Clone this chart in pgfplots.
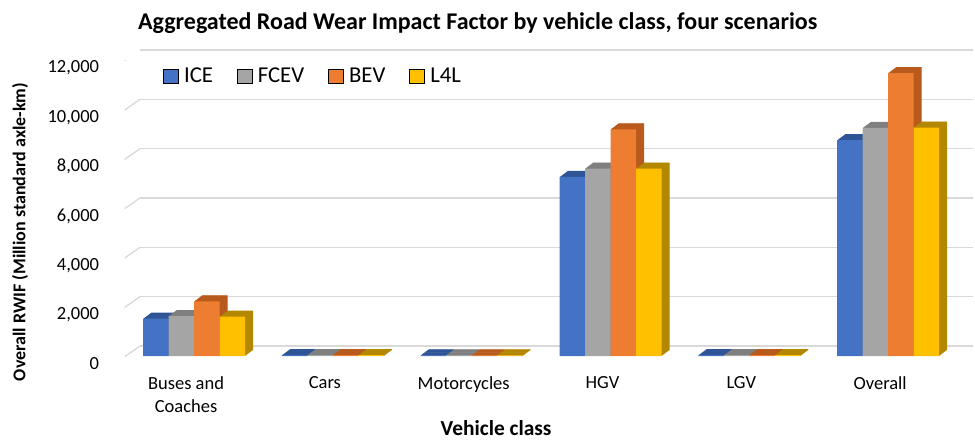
\documentclass[border=0pt]{standalone}
\usepackage{pgfplots}
\pgfplotsset{compat=1.18}
\usepackage{pgfplotstable}
\usepackage{fontspec}
\setmainfont{Carlito}
\definecolor{cICE}{HTML}{4472C4}
\definecolor{cFCEV}{HTML}{A5A5A5}
\definecolor{cBEV}{HTML}{ED7D31}
\definecolor{cL4L}{HTML}{FFC000}
\definecolor{dICE}{HTML}{2F5597}
\definecolor{dFCEV}{HTML}{7F7F7F}
\definecolor{dBEV}{HTML}{B85A1C}
\definecolor{dL4L}{HTML}{B38700}
\definecolor{gridc}{HTML}{D9D9D9}
\pgfplotstableread{
x ICE FCEV BEV L4L
0 1515 1620 2215 1595
1 35 35 40 35
2 30 30 30 30
3 7260 7600 9190 7600
4 35 35 40 35
5 8750 9245 11470 9260
}\data
\begin{document}
\begin{tikzpicture}[x=1pt,y=1pt]
\useasboundingbox (0,0) rectangle (975,440);
\begin{axis}[
  at={(124.6pt,84pt)}, anchor=south west,
  scale only axis, width=833pt, height=296pt,
  xmin=-0.5, xmax=5.5, ymin=0, ymax=12000,
  axis lines=left, axis line style={draw=none}, major tick length=0pt,
  ymajorgrids,
  major grid style={draw=gridc, line width=1.3pt, xshift=15.4pt, yshift=10pt},
  xtick={0,...,5},
  xticklabels={{Buses and\\Coaches},Cars,Motorcycles,HGV,LGV,Overall},
  xticklabel style={align=center, font=\fontsize{18.5}{23}\selectfont, xshift=-8pt, yshift=-17pt, anchor=north},
  ytick={0,2000,...,12000},
  scaled y ticks=false,
  yticklabel style={font=\fontsize{18.5}{20}\selectfont, xshift=-22pt, yshift=-8pt, anchor=east,
    /pgf/number format/.cd, 1000 sep={,}, assume math mode=true},
  title={Aggregated Road Wear Impact Factor by vehicle class, four scenarios},
  title style={font=\fontsize{24}{28}\selectfont\bfseries, at={(axis description cs:0.424,1.105)}, anchor=center},
  xlabel={Vehicle class},
  xlabel style={font=\fontsize{21.4}{24}\selectfont\bfseries, at={(axis description cs:0.446,-0.242)}, anchor=center},
  ylabel={Overall RWIF (Million standard axle-km)},
  ylabel style={font=\fontsize{18}{21}\selectfont\bfseries, at={(axis description cs:-0.1256,0.419)}, anchor=center},
  legend image code/.code={\fill[#1] (0pt,-7.25pt) rectangle (14.5pt,7.25pt);},
  legend style={draw=none, fill=none, at={(axis description cs:0.0425,0.946)}, anchor=west,
    font=\fontsize{22.7}{26}\selectfont,
    /tikz/every odd column/.append style={column sep=4pt},
    /tikz/every even column/.append style={column sep=22pt}},
  legend columns=4, legend cell align=left,
]
\pgfplotsinvokeforeach{0,2000,...,12000}{
  \draw[gridc, line width=1.3pt] ([xshift=-7.6pt,yshift=-6pt]axis cs:-0.5,#1) -- ([xshift=15.4pt,yshift=10pt]axis cs:-0.5,#1);
}
% ICE
\pgfplotsinvokeforeach{1,...,16}{
  \addplot[ybar, bar width=25.5pt, bar shift=-38.25pt, fill=dICE, draw=none, xshift=0.5*#1pt, yshift=0.375*#1pt, forget plot] table[x=x,y=ICE]{\data};
}
\addplot[ybar, bar width=25.5pt, bar shift=-38.25pt, fill=cICE, draw=none, forget plot] table[x=x,y=ICE]{\data};
% FCEV
\pgfplotsinvokeforeach{1,...,16}{
  \addplot[ybar, bar width=25.5pt, bar shift=-12.75pt, fill=dFCEV, draw=none, xshift=0.5*#1pt, yshift=0.375*#1pt, forget plot] table[x=x,y=FCEV]{\data};
}
\addplot[ybar, bar width=25.5pt, bar shift=-12.75pt, fill=cFCEV, draw=none, forget plot] table[x=x,y=FCEV]{\data};
% BEV
\pgfplotsinvokeforeach{1,...,16}{
  \addplot[ybar, bar width=25.5pt, bar shift=12.75pt, fill=dBEV, draw=none, xshift=0.5*#1pt, yshift=0.375*#1pt, forget plot] table[x=x,y=BEV]{\data};
}
\addplot[ybar, bar width=25.5pt, bar shift=12.75pt, fill=cBEV, draw=none, forget plot] table[x=x,y=BEV]{\data};
% L4L
\pgfplotsinvokeforeach{1,...,16}{
  \addplot[ybar, bar width=25.5pt, bar shift=38.25pt, fill=dL4L, draw=none, xshift=0.5*#1pt, yshift=0.375*#1pt, forget plot] table[x=x,y=L4L]{\data};
}
\addplot[ybar, bar width=25.5pt, bar shift=38.25pt, fill=cL4L, draw=none, forget plot] table[x=x,y=L4L]{\data};
\addlegendimage{fill=cICE}\addlegendentry{ICE}
\addlegendimage{fill=cFCEV}\addlegendentry{FCEV}
\addlegendimage{fill=cBEV}\addlegendentry{BEV}
\addlegendimage{fill=cL4L}\addlegendentry{L4L}
\end{axis}
\end{tikzpicture}
\end{document}
